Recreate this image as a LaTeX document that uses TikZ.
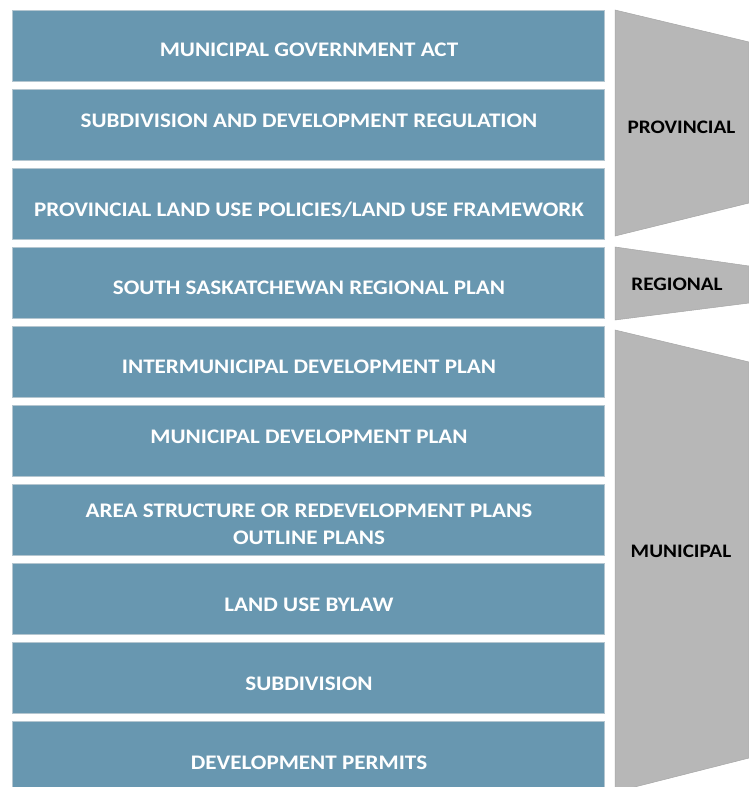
\documentclass[tikz,border=0pt]{standalone}
\usepackage{fontspec}
\setmainfont{Carlito}
\definecolor{boxblue}{HTML}{6897B0}
\definecolor{boxedge}{HTML}{B4C6D0}
\definecolor{tier}{HTML}{B7B7B7}
\definecolor{tieredge}{HTML}{A6A6A6}
\newcommand{\wideA}[1]{\scalebox{1.115}[1]{#1}}
\newcommand{\wideB}[1]{\scalebox{1.11}[1]{#1}}
\begin{document}
\begin{tikzpicture}[x=1pt,y=-1pt,
  level/.style={draw=boxedge, line width=0.8pt, fill=boxblue, minimum width=592pt, minimum height=71pt, inner sep=0pt, anchor=north west},
  leveltext/.style={text=white, font=\bfseries\fontsize{20.7}{24}\selectfont, anchor=base, inner sep=0pt},
  tierfill/.style={fill=tier, draw=tieredge, line width=0.5pt},
  tiertext/.style={text=black, font=\bfseries\fontsize{19.1}{23}\selectfont, anchor=base, inner sep=0pt}]
\useasboundingbox (0,0) rectangle (749,787);
\fill[white] (0,0) rectangle (749,787);
% tiers
\filldraw[tierfill] (615,10) -- (749,42) -- (749,203) -- (615,236) -- cycle;
\filldraw[tierfill] (615,247) -- (749,266) -- (749,303) -- (615,320) -- cycle;
\filldraw[tierfill] (615,330) -- (749,362) -- (749,758) -- (615,792) -- cycle;
\node[tiertext] (tprov) at (681.5,133.2) {\wideB{PROVINCIAL}};
\node[tiertext] (treg) at (677,290.2) {\wideB{REGIONAL}};
\node[tiertext] (tmun) at (681,557.2) {\wideB{MUNICIPAL}};
% levels
\node[level] (b1) at (12,10) {};
\node[level] (b2) at (12,89) {};
\node[level] (b3) at (12,168) {};
\node[level] (b4) at (12,247) {};
\node[level] (b5) at (12,326) {};
\node[level] (b6) at (12,405) {};
\node[level] (b7) at (12,484) {};
\node[level] (b8) at (12,563) {};
\node[level] (b9) at (12,642) {};
\node[level] (b10) at (12,721) {};
\node[leveltext] (l1) at (309,56.2) {\wideA{MUNICIPAL GOVERNMENT ACT}};
\node[leveltext] (l2) at (309,127.2) {\wideA{SUBDIVISION AND DEVELOPMENT REGULATION}};
\node[leveltext] (l3) at (309,216.7) {\wideA{PROVINCIAL LAND USE POLICIES/LAND USE FRAMEWORK}};
\node[leveltext] (l4) at (309,294.7) {\wideA{SOUTH SASKATCHEWAN REGIONAL PLAN}};
\node[leveltext] (l5) at (309,373.7) {\wideA{INTERMUNICIPAL DEVELOPMENT PLAN}};
\node[leveltext] (l6) at (309,443.7) {\wideA{MUNICIPAL DEVELOPMENT PLAN}};
\node[leveltext] (l7a) at (309,517.7) {\wideA{AREA STRUCTURE OR REDEVELOPMENT PLANS}};
\node[leveltext] (l7b) at (309,544.7) {\wideA{OUTLINE PLANS}};
\node[leveltext] (l8) at (309,611.7) {\wideA{LAND USE BYLAW}};
\node[leveltext] (l9) at (309,690.7) {\wideA{SUBDIVISION}};
\node[leveltext] (l10) at (309,769.7) {\wideA{DEVELOPMENT PERMITS}};
\end{tikzpicture}
\end{document}
